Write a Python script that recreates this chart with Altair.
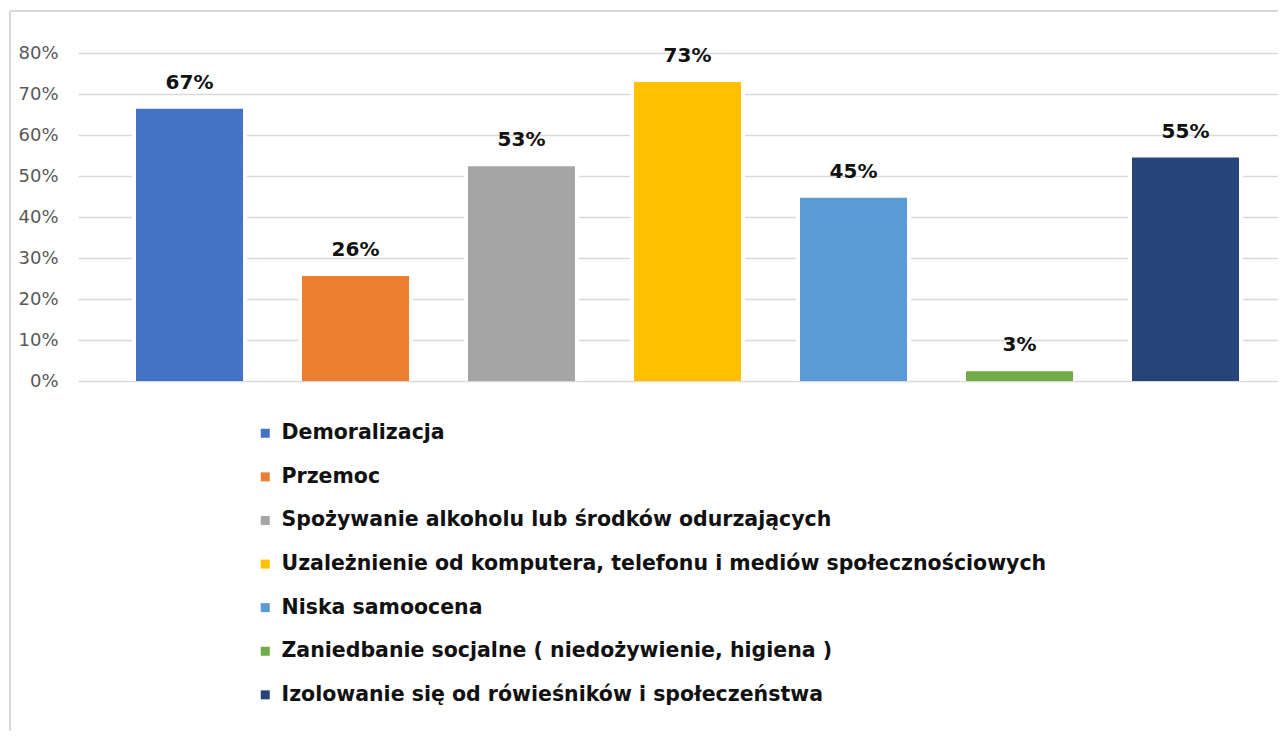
import altair as alt
import pandas as pd

categories = [
    "Demoralizacja",
    "Przemoc",
    "Spożywanie alkoholu lub środków odurzających",
    "Uzależnienie od komputera, telefonu i mediów społecznościowych",
    "Niska samoocena",
    "Zaniedbanie socjalne ( niedożywienie, higiena )",
    "Izolowanie się od rówieśników i społeczeństwa",
]
values = [0.664, 0.256, 0.524, 0.729, 0.447, 0.024, 0.545]
labels = ["67%", "26%", "53%", "73%", "45%", "3%", "55%"]
colors = ["#4472C4", "#ED7D31", "#A5A5A5", "#FFC000", "#5B9BD5", "#70AD47", "#264478"]

df = pd.DataFrame({"cat": categories, "val": values, "lab": labels})

FONT = "DejaVu Sans"

xenc = alt.X(
    "cat:N",
    sort=categories,
    axis=None,
    scale=alt.Scale(paddingInner=0.3554, paddingOuter=0.2922, align=0.598),
)
yenc = alt.Y(
    "val:Q",
    scale=alt.Scale(domain=[0, 0.8], nice=False),
    axis=alt.Axis(
        format=".0%",
        values=[0, 0.1, 0.2, 0.3, 0.4, 0.5, 0.6, 0.7, 0.8],
        title=None,
        domain=False,
        ticks=False,
        labelFont=FONT,
        labelFontSize=18,
        labelColor="#595959",
        labelPadding=20,
        grid=True,
        gridColor="#d9d9d9",
        gridWidth=1.5,
    ),
)

base = alt.Chart(df)

white = base.mark_bar(size=115, color="white").encode(x=xenc, y=yenc)

bars = base.mark_bar().encode(
    x=xenc,
    y=yenc,
    color=alt.Color(
        "cat:N",
        sort=categories,
        scale=alt.Scale(domain=categories, range=colors),
        legend=alt.Legend(
            title=None,
            orient="none",
            legendX=177,
            legendY=370,
            direction="vertical",
            symbolType="square",
            symbolSize=81,
            symbolStrokeWidth=0,
            labelFont=FONT,
            labelFontSize=20.5,
            labelFontWeight="bold",
            labelColor="#111111",
            labelOffset=6,
            rowPadding=22.6,
            padding=0,
            labelLimit=1000,
        ),
    ),
)

text = base.mark_text(
    dy=-20, baseline="alphabetic", font=FONT, fontSize=20, fontWeight="bold", color="#111111"
).encode(x=xenc, y=yenc, text="lab:N")

one = alt.Chart(pd.DataFrame({"a": [0]}))
top_border = one.mark_rule(color="#d9d9d9", strokeWidth=2).encode(
    x=alt.value(-68), x2=alt.value(1210), y=alt.value(-42)
)
left_border = one.mark_rule(color="#d9d9d9", strokeWidth=2).encode(
    x=alt.value(-68), y=alt.value(-42), y2=alt.value(690)
)

chart = (
    alt.layer(top_border, left_border, white, bars, text)
    .properties(
        width=1200,
        height=328,
        autosize=alt.AutoSizeParams(type="none"),
        padding={"left": 70, "top": 45, "right": 0, "bottom": 350},
    )
    .configure_view(stroke=None)
)

chart.save("out.html", embed_options={"renderer": "svg", "actions": False})
